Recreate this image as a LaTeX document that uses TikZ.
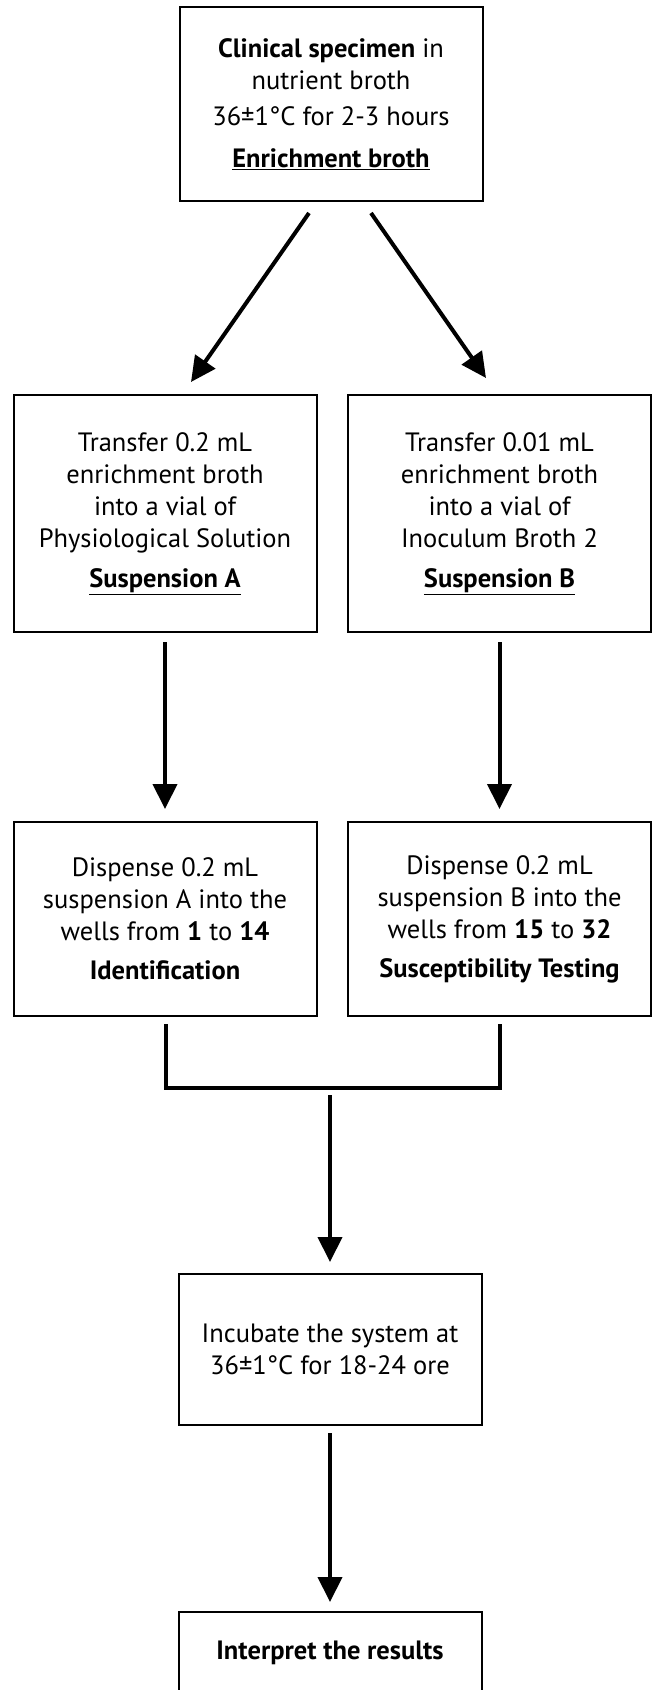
\documentclass[tikz,border=0pt]{standalone}
\usepackage{fontspec}
\setmainfont{PT Sans}
\usetikzlibrary{arrows.meta}
\tikzset{
  box/.style={draw=black, line width=2pt, align=center, inner sep=0pt,
    font=\fontsize{26.5}{32}\selectfont},
  wide/.style={minimum width=303pt},
  flow/.style={draw=black, line width=4pt, -{Triangle[width=24pt,length=25pt]}},
  bracket/.style={draw=black, line width=4pt},
}
\begin{document}
\begin{tikzpicture}[x=1pt,y=-1pt]
  \useasboundingbox (0,0) rectangle (656,1690);

  \node[box, wide, minimum height=194pt] (enrich) at (331,104)
    {\textbf{Clinical specimen} in\\ nutrient broth\\[4pt] 36±1°C for 2-3 hours\\[10pt]
     \underline{\textbf{Enrichment broth}}};

  \node[box, wide, minimum height=237pt] (susA) at (165,513.5)
    {Transfer 0.2 mL\\ enrichment broth\\ into a vial of\\ Physiological Solution\\[8pt]
     \underline{\textbf{Suspension A}}};
  \node[box, wide, minimum height=237pt] (susB) at (499.5,513.5)
    {Transfer 0.01 mL\\ enrichment broth\\ into a vial of\\ Inoculum Broth 2\\[8pt]
     \underline{\textbf{Suspension B}}};

  \node[box, wide, minimum height=194pt] (ident) at (165,919)
    {Dispense 0.2 mL\\ suspension A into the\\ wells from \textbf{1} to \textbf{14}\\[7pt]
     \textbf{Identification}};
  \node[box, wide, minimum height=194pt] (suscept) at (499.5,919)
    {Dispense 0.2 mL\\ suspension B into the\\ wells from \textbf{15} to \textbf{32}\\[7pt]
     \textbf{Susceptibility Testing}};

  \node[box, wide, minimum height=151pt] (incub) at (330,1349.5)
    {Incubate the system at\\ 36±1°C for 18-24 ore};

  \node[box, wide, minimum height=82pt] (result) at (330,1653)
    {\textbf{Interpret the results}};

  % connectors
  \draw[flow] ([xshift=-22pt,yshift=-11pt]enrich.south) -- ([xshift=26pt,yshift=12pt]susA.north);
  \draw[flow] ([xshift=40pt,yshift=-11pt]enrich.south) -- ([xshift=-13.5pt,yshift=16pt]susB.north);
  \draw[flow] ([yshift=-9pt]susA.south) -- ([yshift=12pt]ident.north);
  \draw[flow] ([yshift=-9pt]susB.south) -- ([yshift=12pt]suscept.north);

  \draw[bracket] ([xshift=1pt,yshift=-7pt]ident.south) |- (330,1088) coordinate (merge)
    -| ([yshift=-7pt]suscept.south);
  \draw[flow] ([yshift=-7pt]merge) -- ([yshift=11pt]incub.north);
  \draw[flow] ([yshift=-7pt]incub.south) -- ([yshift=9pt]result.north);
\end{tikzpicture}
\end{document}
